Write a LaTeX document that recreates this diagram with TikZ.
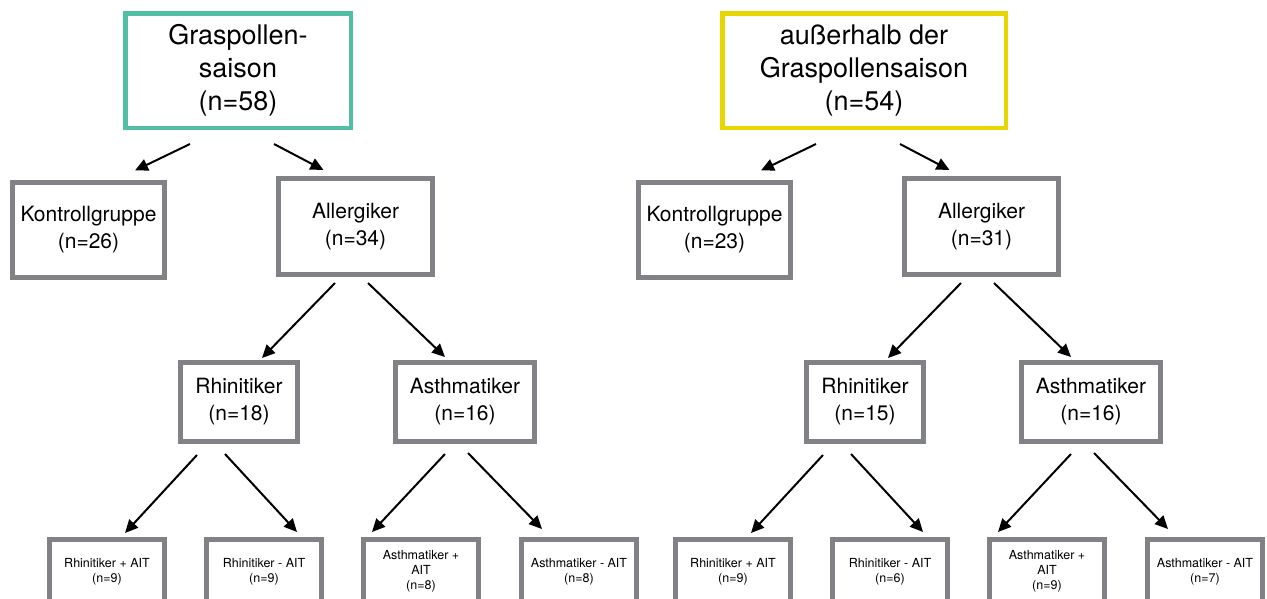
\documentclass[tikz,border=0pt]{standalone}
\usepackage{fontspec}
\setmainfont{TeX Gyre Heros}
\usetikzlibrary{arrows.meta,calc}
\definecolor{boxgray}{RGB}{128,130,133}
\definecolor{tealc}{RGB}{82,190,163}
\definecolor{yellc}{RGB}{232,214,0}
\begin{document}
\begin{tikzpicture}[x=1pt,y=-1pt,
  topbox/.style={draw, line width=4.5pt, minimum height=114.5pt, inner sep=0pt, align=center, font=\fontsize{27}{33}\selectfont},
  midbox/.style={draw=boxgray, line width=5pt, inner sep=0pt, align=center, font=\fontsize{21}{27}\selectfont},
  smallbox/.style={draw=boxgray, line width=5pt, minimum width=115pt, minimum height=64pt, inner sep=0pt, align=center, font=\fontsize{12.5}{15}\selectfont},
  arr/.style={line width=2pt, -{Triangle[length=13pt,width=12pt]}}]
\useasboundingbox (0,0) rectangle (1267,598);
\fill[white] (0,0) rectangle (1267,598);
\clip (0,0) rectangle (1267,598);
% left half
\node[topbox, draw=tealc, minimum width=225.5pt] (topL) at (238,70.5) {Graspollen-\\saison\\(n=58)};
\node[midbox, minimum width=152pt, minimum height=95pt] (konL) at (88.5,230) {Kontrollgruppe\\(n=26)};
\node[midbox, minimum width=154pt, minimum height=96pt] (allL) at (355.5,226.5) {Allergiker\\(n=34)};
\node[midbox, minimum width=117pt, minimum height=79pt] (rhiL) at (239,402) {Rhinitiker\\(n=18)};
\node[midbox, minimum width=139pt, minimum height=79pt] (astL) at (465,402) {Asthmatiker\\(n=16)};
\node[smallbox] (b1L) at (107,571.5) {Rhinitiker + AIT\\(n=9)};
\node[smallbox] (b2L) at (264,571.5) {Rhinitiker - AIT\\(n=9)};
\node[smallbox] (b3L) at (421,571.5) {Asthmatiker +\\AIT\\(n=8)};
\node[smallbox] (b4L) at (579,571.5) {Asthmatiker - AIT\\(n=8)};
% right half
\node[topbox, draw=yellc, minimum width=283.5pt] (topR) at (864,70.5) {außerhalb der\\Graspollensaison\\(n=54)};
\node[midbox, minimum width=152pt, minimum height=95pt] (konR) at (714.5,230) {Kontrollgruppe\\(n=23)};
\node[midbox, minimum width=154pt, minimum height=96pt] (allR) at (981.5,226.5) {Allergiker\\(n=31)};
\node[midbox, minimum width=117pt, minimum height=79pt] (rhiR) at (865,402) {Rhinitiker\\(n=15)};
\node[midbox, minimum width=139pt, minimum height=79pt] (astR) at (1091,402) {Asthmatiker\\(n=16)};
\node[smallbox] (b1R) at (733,571.5) {Rhinitiker + AIT\\(n=9)};
\node[smallbox] (b2R) at (890,571.5) {Rhinitiker - AIT\\(n=6)};
\node[smallbox] (b3R) at (1047,571.5) {Asthmatiker +\\AIT\\(n=9)};
\node[smallbox] (b4R) at (1205,571.5) {Asthmatiker - AIT\\(n=7)};
% arrows
\foreach \s in {L,R}{
  \draw[arr] ($(top\s.center)+(-48,73.5)$) -- ($(kon\s.center)+(46.5,-59.5)$);
  \draw[arr] ($(top\s.center)+(36,73.5)$) -- ($(all\s.center)+(-32,-56.5)$);
  \draw[arr] ($(all\s.center)+(-20.5,56.5)$) -- ($(rhi\s.center)+(23,-44)$);
  \draw[arr] ($(all\s.center)+(12.5,56.5)$) -- ($(ast\s.center)+(-20,-45)$);
  \draw[arr] ($(rhi\s.center)+(-42,53)$) -- ($(b1\s.center)+(18,-38.5)$);
  \draw[arr] ($(rhi\s.center)+(-14,52)$) -- ($(b2\s.center)+(33,-39.5)$);
  \draw[arr] ($(ast\s.center)+(-20,52)$) -- ($(b3\s.center)+(-49,-39.5)$);
  \draw[arr] ($(ast\s.center)+(3,51)$) -- ($(b4\s.center)+(-37,-42.5)$);
}
\end{tikzpicture}
\end{document}
